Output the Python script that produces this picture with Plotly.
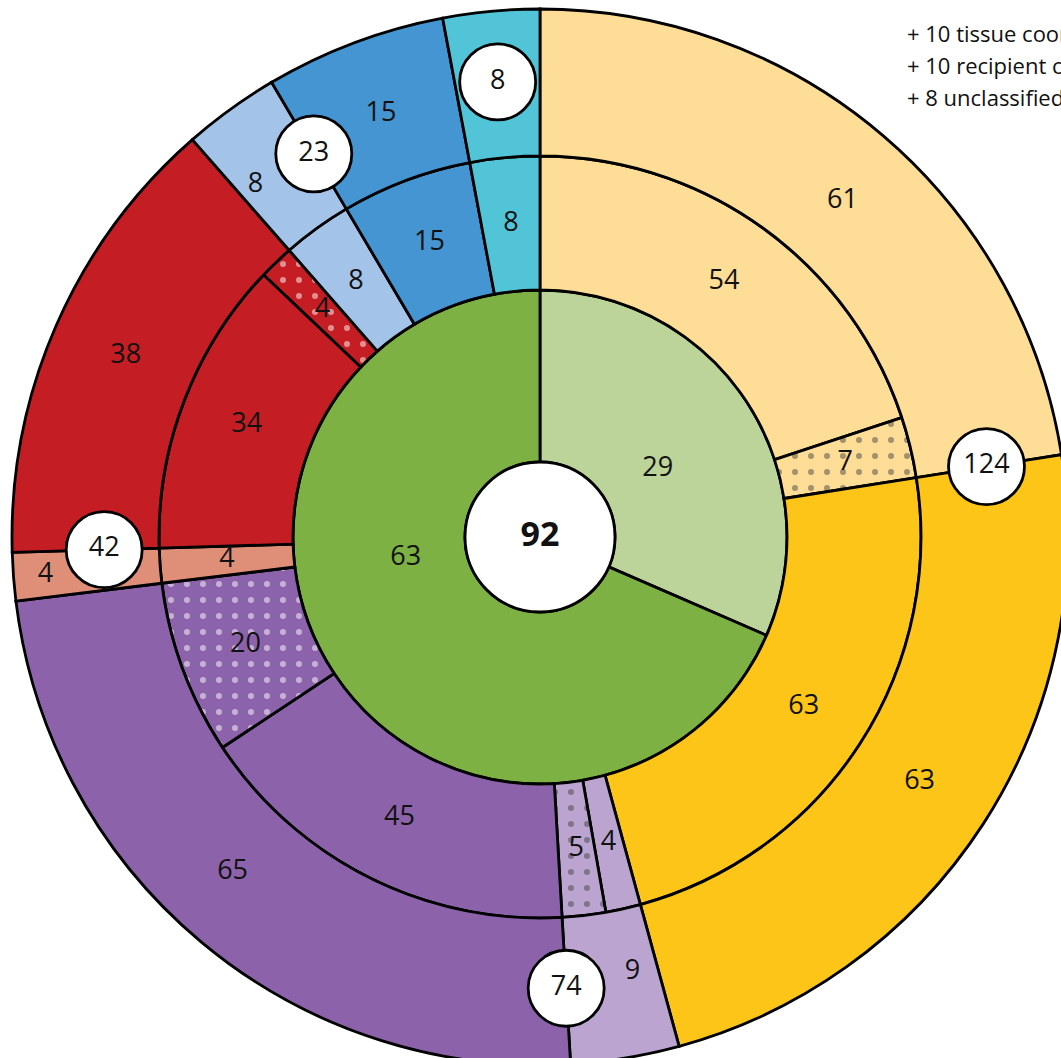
import plotly.graph_objects as go

# ---------------- data ----------------
center_total = 92
inner_labels = ["29", "63"]
inner_values = [29, 63]
middle_values = [54, 7, 63, 4, 5, 45, 20, 4, 34, 4, 8, 15, 8]
middle_dotted = [0, 1, 0, 0, 1, 0, 1, 0, 0, 1, 0, 0, 0]
outer_values = [61, 63, 9, 65, 4, 38, 8, 15, 8]
group_sizes = [2, 2, 2, 2, 1]          # outer segments per group
group_totals = [124, 74, 42, 23, 8]
notes = ["+ 10 tissue coordinates", "+ 10 recipient cells", "+ 8 unclassified"]

# ---------------- styles ----------------
LG, G = "#BCD39A", "#7DB143"
LY, Y = "#FEDE96", "#FDC518"
LIL, PUR = "#BBA5D0", "#8C63AA"
SAL, RED = "#DF8E78", "#C41D23"
LB, B, CY = "#A4C3E8", "#4595D2", "#52C4D8"
inner_colors = [LG, G]
middle_colors = [LY, LY, Y, LIL, LIL, PUR, PUR, SAL, RED, RED, LB, B, CY]
outer_colors = [LY, Y, LIL, PUR, SAL, RED, LB, B, CY]
dot_colors = {LY: "#858585", LIL: "#8C8C8C", PUR: "#BBA3D6", RED: "#9C9C9C"}

W, H = 1080, 1074          # figure bigger than window; window crops right/bottom
RMAX = 537
R0, R1, R2, R3 = 75, 247, 381, 528
FONT = "Open Sans, Noto Sans, sans-serif"
LINE = dict(color="black", width=2.8)


def arcs(values):
    tot = float(sum(values))
    c = 0.0
    starts, centers, widths = [], [], []
    for v in values:
        starts.append(c / tot * 360)
        centers.append((c + v / 2) / tot * 360)
        widths.append(v / tot * 360)
        c += v
    return starts, centers, widths


def ring(values, colors, base, top, dotted=None):
    n = len(values)
    _, cen, wid = arcs(values)
    shapes = ["." if (dotted and dotted[i]) else "" for i in range(n)]
    fg = [dot_colors.get(colors[i], "#888888") for i in range(n)]
    return go.Barpolar(
        theta=cen, width=wid, r=[top - base] * n, base=[base] * n,
        marker=dict(color=colors, line=LINE,
                    pattern=dict(shape=shapes, fgcolor=fg, bgcolor=colors,
                                 size=16, solidity=0.11, fillmode="overlay")),
        hoverinfo="skip", showlegend=False)


fig = go.Figure()
fig.add_trace(ring(inner_values, inner_colors, R0, R1))
fig.add_trace(ring(middle_values, middle_colors, R1, R2, middle_dotted))
fig.add_trace(ring(outer_values, outer_colors, R2, R3))

# ---- segment labels ----
lab_r, lab_t, lab_s = [], [], []
_, ic, _ = arcs(inner_values)
inner_override = {0: 60, 1: 261}
for i, v in enumerate(inner_values):
    lab_r.append(136)
    lab_t.append(inner_override.get(i, ic[i]))
    lab_s.append(inner_labels[i])
_, mc, _ = arcs(middle_values)
for i, v in enumerate(middle_values):
    lab_r.append(314)
    lab_t.append(mc[i])
    lab_s.append(str(v))
_, oc, _ = arcs(outer_values)
outer_override = {0: (42, 452), 2: (168, 445), 4: (265.6, 496), 6: (321, 452),
                  3: (222.5, 455)}
for i, v in enumerate(outer_values):
    t, r = outer_override.get(i, (oc[i], 452))
    lab_r.append(r)
    lab_t.append(t)
    lab_s.append(str(v))
fig.add_trace(go.Scatterpolar(r=lab_r, theta=lab_t, text=lab_s, mode="text",
                              textfont=dict(family=FONT, size=27, color="#111111"),
                              hoverinfo="skip", showlegend=False))

# ---- group total circles ----
os_, oc_, ow_ = arcs(outer_values)
g_t = []
k = 0
for gs in group_sizes:
    if gs > 1:
        g_t.append(os_[k + 1])
    else:
        g_t.append(oc_[k])
    k += gs
g_r = [452, 452, 436, 445, 457]
fig.add_trace(go.Scatterpolar(
    r=g_r, theta=g_t, text=[str(v) for v in group_totals], mode="markers+text",
    textposition="middle center",
    marker=dict(size=76, color="white", line=LINE),
    textfont=dict(family=FONT, size=27, color="#111111"),
    hoverinfo="skip", showlegend=False))

# ---- centre total ----
fig.add_trace(go.Scatterpolar(
    r=[0], theta=[0], text=["<b>%d</b>" % center_total], mode="markers+text",
    textposition="middle center",
    marker=dict(size=2 * R0, color="white", line=LINE),
    textfont=dict(family=FONT, size=34, color="#111111"),
    hoverinfo="skip", showlegend=False))

for i, t in enumerate(notes):
    fig.add_annotation(xref="paper", yref="paper", x=905 / W, y=1 - (33 + 32 * i) / H,
                       xanchor="left", yanchor="middle", text=t, showarrow=False,
                       font=dict(family=FONT, size=22, color="#111111"))

fig.update_layout(
    width=W, height=H, margin=dict(l=0, r=0, t=0, b=0),
    paper_bgcolor="white", plot_bgcolor="white",
    polar=dict(domain=dict(x=[0, 1], y=[0, 1]), bgcolor="white", barmode="overlay",
               radialaxis=dict(range=[0, RMAX], visible=False, showgrid=False),
               angularaxis=dict(direction="clockwise", rotation=90, visible=False,
                                showgrid=False)),
    showlegend=False)

js = """
document.documentElement.style.overflow='hidden';
document.body.style.margin='0';
document.body.style.overflow='hidden';
var gd=document.getElementById('{plot_id}');
var p=gd.parentElement; p.style.width='1061px'; p.style.height='1058px'; p.style.overflow='hidden';
"""
fig.write_html("out.html", post_script=js, config={"displayModeBar": False})
